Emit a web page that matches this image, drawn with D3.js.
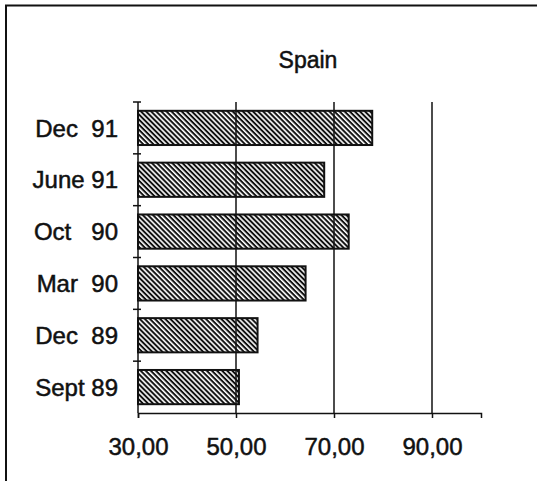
<!DOCTYPE html>
<html>
<head>
<meta charset="utf-8">
<script src="https://cdn.jsdelivr.net/npm/d3@7"></script>
<style>
  body { margin: 0; background: #fff; }
  text { font-family: "Liberation Sans", Arial, sans-serif; fill: #111; stroke: #111; stroke-width: 0.5px; }
</style>
</head>
<body>
<script>
// chart data, top to bottom
var periods = ["Dec  91", "June 91", "Oct   90", "Mar  90", "Dec  89", "Sept 89"];
var values = [77.8, 68.0, 73.0, 64.2, 54.4, 50.6];
var xTicks = [30, 50, 70, 90];
var title = "Spain";

var svgWidth = 537;
var svgHeight = 481;

var margin = { top: 102, right: 56, bottom: 68, left: 138 };
var width = svgWidth - margin.left - margin.right;
var height = svgHeight - margin.top - margin.bottom;

var svg = d3.select("body")
  .append("svg")
  .attr("width", svgWidth)
  .attr("height", svgHeight);

// hatch pattern for bars (lines running top-left to bottom-right)
var defs = svg.append("defs");
defs.append("pattern")
  .attr("id", "hatch")
  .attr("patternUnits", "userSpaceOnUse")
  .attr("width", 3.6)
  .attr("height", 3.6)
  .attr("patternTransform", "rotate(45)")
  .append("rect")
  .attr("width", 3.6)
  .attr("height", 2)
  .attr("fill", "#111");

// frame (top and left edges)
svg.append("path")
  .attr("d", "M6,481 V5.5 H537")
  .attr("fill", "none")
  .attr("stroke", "#111")
  .attr("stroke-width", 2);

var chartGroup = svg.append("g")
  .attr("transform", `translate(${margin.left}, ${margin.top})`);

var data = periods.map(function(p, i) { return { period: p, value: values[i] }; });

var xScale = d3.scaleLinear().domain([30, 100]).range([0, width]);
var yScale = d3.scaleBand().domain(periods).range([0, height]).paddingInner(0.34).paddingOuter(0.17);

// vertical grid lines
chartGroup.selectAll(".grid")
  .data(xTicks.slice(1))
  .enter()
  .append("line")
  .attr("x1", function(d) { return xScale(d); })
  .attr("x2", function(d) { return xScale(d); })
  .attr("y1", 0)
  .attr("y2", height)
  .attr("stroke", "#111")
  .attr("stroke-width", 1.5);

// bars
chartGroup.selectAll(".bar")
  .data(data)
  .enter()
  .append("rect")
  .attr("x", xScale(30))
  .attr("y", function(d) { return yScale(d.period); })
  .attr("width", function(d) { return xScale(d.value) - xScale(30); })
  .attr("height", yScale.bandwidth())
  .attr("fill", "url(#hatch)")
  .attr("stroke", "#111")
  .attr("stroke-width", 2);

// x axis
var bottomAxis = d3.axisBottom(xScale)
  .tickValues(xTicks)
  .tickSize(5)
  .tickPadding(20)
  .tickFormat(function(d) { return d3.format(".2f")(d).replace(".", ","); });

var xAxis = chartGroup.append("g")
  .attr("transform", `translate(0, ${height})`)
  .call(bottomAxis);
xAxis.select(".domain").attr("stroke", "#111").attr("stroke-width", 1.5);
xAxis.selectAll(".tick line").attr("stroke", "#111").attr("stroke-width", 1.5);
xAxis.selectAll("text")
  .style("font-size", "24px")
  .style("font-family", "'Liberation Sans', Arial, sans-serif")
  .attr("fill", "#111");

// y axis line with cross ticks at band boundaries
chartGroup.append("line")
  .attr("x1", 0).attr("x2", 0)
  .attr("y1", 0).attr("y2", height)
  .attr("stroke", "#111")
  .attr("stroke-width", 1.5);

var boundaries = d3.range(periods.length).map(function(i) { return i * yScale.step(); });
chartGroup.selectAll(".ytick")
  .data(boundaries)
  .enter()
  .append("line")
  .attr("x1", -5).attr("x2", 3)
  .attr("y1", function(d) { return d; })
  .attr("y2", function(d) { return d; })
  .attr("stroke", "#111")
  .attr("stroke-width", 1.5);

// category labels
chartGroup.selectAll(".label")
  .data(data)
  .enter()
  .append("text")
  .attr("x", -20)
  .attr("y", function(d) { return yScale(d.period) + yScale.bandwidth() / 2; })
  .attr("dy", "0.36em")
  .attr("text-anchor", "end")
  .style("font-size", "24px")
  .style("white-space", "pre")
  .attr("xml:space", "preserve")
  .text(function(d) { return d.period; });

// title
svg.append("text")
  .attr("x", 308)
  .attr("y", 68)
  .attr("text-anchor", "middle")
  .style("font-size", "23px")
  .text(title);
</script>
</body>
</html>
